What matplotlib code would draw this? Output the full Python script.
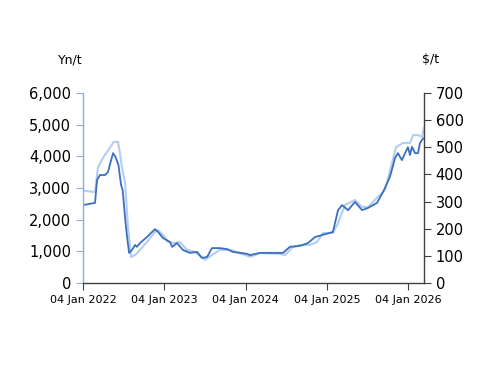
import numpy as np
import pandas as pd
import matplotlib
matplotlib.use("Agg")
import matplotlib.pyplot as plt
import matplotlib.dates as mdates

# Yn/t series (left axis, dark line)
yn_dates = ['2022-01-04', '2022-02-27', '2022-03-08', '2022-03-21', '2022-04-13', '2022-04-26',
            '2022-05-08', '2022-05-19', '2022-05-30', '2022-06-12', '2022-06-24', '2022-07-01',
            '2022-07-14', '2022-07-21', '2022-07-30',
            '2022-08-12', '2022-08-26', '2022-09-03', '2022-09-17', '2022-10-18', '2022-11-23',
            '2022-12-07', '2022-12-29', '2023-01-30', '2023-02-08', '2023-03-02', '2023-03-29',
            '2023-04-29', '2023-05-31', '2023-06-22', '2023-07-15', '2023-08-06', '2023-09-11',
            '2023-10-12', '2023-11-08', '2024-01-10', '2024-01-24', '2024-03-09', '2024-06-20',
            '2024-07-21', '2024-09-04', '2024-10-10', '2024-11-11', '2025-01-30', '2025-02-22',
            '2025-03-12', '2025-04-08', '2025-05-09', '2025-06-10', '2025-07-07', '2025-08-16',
            '2025-09-12', '2025-10-13', '2025-11-05', '2025-11-18', '2025-12-06', '2025-12-20',
            '2026-01-02', '2026-01-11', '2026-01-20', '2026-02-03', '2026-02-16', '2026-02-25',
            '2026-03-06', '2026-03-15']
yn_values = [2460, 2530, 3250, 3410, 3410, 3500,
             3820, 4100, 3980, 3730, 3090, 2940,
             1900, 1450, 950,
             1040, 1200, 1140, 1260, 1450, 1700,
             1610, 1420, 1290, 1140, 1260, 1040,
             950, 980, 790, 820, 1100, 1100,
             1070, 980, 920, 880, 950, 950,
             1140, 1170, 1260, 1450, 1610, 2300,
             2460, 2300, 2560, 2300, 2370, 2530,
             2870, 3350, 3950, 4100, 3880, 4100,
             4290, 4040, 4300, 4100, 4100, 4420,
             4520, 4580]

# $/t series (right axis, light line)
usd_dates = ['2022-01-04', '2022-02-27', '2022-03-12', '2022-03-25', '2022-04-12', '2022-05-04',
             '2022-05-22', '2022-06-10', '2022-06-19', '2022-06-28', '2022-07-12', '2022-07-25', '2022-08-08',
             '2022-08-26', '2022-09-17', '2022-10-18', '2022-11-23', '2022-12-07', '2022-12-29',
             '2023-01-21', '2023-02-21', '2023-03-15', '2023-04-16', '2023-05-22', '2023-07-06',
             '2023-08-06', '2023-09-11', '2023-10-26', '2023-12-10', '2024-01-24', '2024-03-09',
             '2024-06-06', '2024-06-29', '2024-08-04', '2024-09-04', '2024-10-19', '2024-11-20',
             '2024-12-16', '2025-01-30', '2025-02-22', '2025-03-25', '2025-05-09', '2025-06-10',
             '2025-07-07', '2025-08-20', '2025-09-21', '2025-10-22', '2025-11-10', '2025-12-11',
             '2026-01-11', '2026-01-25', '2026-02-16', '2026-03-06', '2026-03-15']
usd_values = [340, 335, 424, 446, 472, 497,
              520, 520, 479, 424, 368, 206, 96,
              103, 122, 151, 188, 195, 177,
              151, 147, 151, 122, 114, 85,
              103, 122, 122, 110, 96, 110,
              107, 103, 133, 140, 140, 151,
              184, 184, 221, 287, 306, 280,
              280, 317, 343, 442, 501, 516,
              516, 545, 545, 538, 571]

tick_dates = ['2022-01-04', '2023-01-04', '2024-01-04', '2025-01-04', '2026-01-04']

dark = '#3b6fbf'
light = '#b3cdf0'
grey = '#404040'

yn_d = pd.to_datetime(yn_dates)
usd_d = pd.to_datetime(usd_dates)

fig = plt.figure(figsize=(5, 3.86), dpi=100)
ax = fig.add_axes([0.166, 0.267, 0.682, 0.492])
ax2 = ax.twinx()

ax2.plot(usd_d, usd_values, color=light, lw=1.5)
ax.plot(yn_d, yn_values, color=dark, lw=1.3)
ax.set_zorder(ax2.get_zorder() + 1)
ax.patch.set_visible(False)

ax.set_ylim(0, 6000)
ax2.set_ylim(0, 700)
ax.set_yticks(np.arange(0, 6001, 1000))
ax2.set_yticks(np.arange(0, 701, 100))
ax.yaxis.set_major_formatter(matplotlib.ticker.FuncFormatter(lambda v, p: f'{int(v):,}'))
ax.set_xlim(yn_d[0], yn_d[-1])
ax.set_xticks(pd.to_datetime(tick_dates))
ax.xaxis.set_major_formatter(mdates.DateFormatter('%d %b %Y'))

for a in (ax, ax2):
    a.spines['top'].set_visible(False)
    for s in a.spines.values():
        s.set_linewidth(1.0)
ax.spines['right'].set_visible(False)
ax.spines['left'].set_color('#8eaee0')
ax.spines['bottom'].set_color(grey)
ax2.spines['left'].set_visible(False)
ax2.spines['bottom'].set_visible(False)
ax2.spines['right'].set_color(grey)

ax.tick_params(axis='y', colors='#8eaee0', labelcolor='black', labelsize=10.5, length=5, direction='out')
ax.tick_params(axis='x', colors=grey, labelcolor='black', labelsize=8, length=5, direction='out')
ax2.tick_params(axis='y', colors=grey, labelcolor='black', labelsize=10.5, length=5, direction='out')

fig.text(0.14, 0.845, 'Yn/t', ha='center', va='center', fontsize=9)
fig.text(0.862, 0.845, '$/t', ha='center', va='center', fontsize=9)

fig.savefig('out.png', dpi=100)
